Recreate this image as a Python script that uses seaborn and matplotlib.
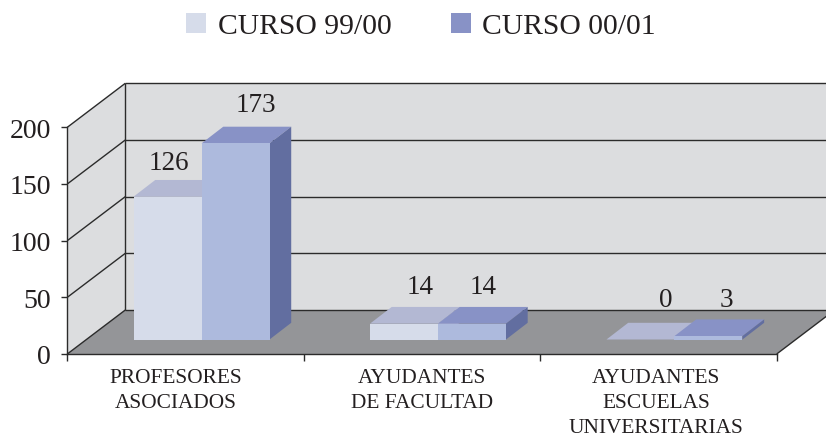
import matplotlib
matplotlib.use("Agg")
import matplotlib.pyplot as plt
from matplotlib.patches import Patch, Polygon
import pandas as pd
import seaborn as sns

categories = ["PROFESORES\nASOCIADOS", "AYUDANTES\nDE FACULTAD", "AYUDANTES\nESCUELAS\nUNIVERSITARIAS"]
series_names = ["CURSO 99/00", "CURSO 00/01"]
curso_9900 = [126, 14, 0]
curso_0001 = [173, 14, 3]
y_ticks = [0, 50, 100, 150, 200]

front_colors = ["#D6DCEA", "#ADBADD"]
top_colors = ["#B3B8D3", "#8892C6"]
side_colors = ["#B3B8D3", "#626EA0"]
legend_colors = ["#D6DCEA", "#8892C6"]
WALL, FLOOR, LINE = "#DCDDDF", "#949598", "#2B2B2B"

W, H = 826, 439
L, R, Y0, Y200 = 67.3, 776.7, 355.0, 128.3

sns.set_theme(style="white")
plt.rcParams["font.family"] = ["Liberation Serif", "DejaVu Serif"]
plt.rcParams["text.color"] = "#231F20"

fig = plt.figure(figsize=(W / 100, H / 100), dpi=100, facecolor="white")
ax = fig.add_axes([L / W, (H - Y0) / H, (R - L) / W, (Y0 - Y200) / H])

df = pd.DataFrame({
    "cat": categories * 2,
    "curso": [series_names[0]] * 3 + [series_names[1]] * 3,
    "valor": curso_9900 + curso_0001,
})
sns.barplot(data=df, x="cat", y="valor", hue="curso", hue_order=series_names,
            order=categories, palette=front_colors, width=0.575, gap=0,
            saturation=1, legend=False, linewidth=0, ax=ax)

XMIN, XMAX = -0.5, 2.5
ax.set_xlim(XMIN, XMAX)
ax.set_ylim(0, 200)
ax.patch.set_alpha(0)
ux = (R - L) / (XMAX - XMIN)
uy = (Y0 - Y200) / 200


def shift(px, py):
    return px / ux, py / uy


WDX, WDY = shift(58, 44)
BDX, BDY = shift(16, 14.5)
DDX, DDY = shift(21.7, 16.7)

# walls and floor
ax.add_patch(Polygon([(XMIN + WDX, WDY), (XMAX + WDX, WDY), (XMAX + WDX, 200 + WDY), (XMIN + WDX, 200 + WDY)],
                     fc=WALL, ec="none", zorder=0.5, clip_on=False))
ax.add_patch(Polygon([(XMIN, 0), (XMIN + WDX, WDY), (XMIN + WDX, 200 + WDY), (XMIN, 200)],
                     fc=WALL, ec="none", zorder=0.5, clip_on=False))
ax.add_patch(Polygon([(XMIN, 0), (XMAX, 0), (XMAX + WDX, WDY), (XMIN + WDX, WDY)],
                     fc=FLOOR, ec="none", zorder=0.6, clip_on=False))
line_kw = dict(color=LINE, lw=1.0, zorder=1, clip_on=False, solid_capstyle="butt")
for v in y_ticks:
    ax.plot([XMIN, XMIN + WDX], [v, v + WDY], **line_kw)
    ax.plot([XMIN + WDX, XMAX + WDX], [v + WDY, v + WDY], **line_kw)
ax.plot([XMIN + WDX, XMIN + WDX], [WDY, 200 + WDY], **line_kw)
ax.plot([XMAX, XMAX + WDX], [0, WDY], **line_kw)

# 3D bars, fronts drawn by seaborn
for i, container in enumerate(ax.containers):
    z = 3 + i
    for p in container:
        p.set_x(p.get_x() + BDX)
        p.set_y(p.get_y() + BDY)
        p.set_zorder(z + 0.5)
        p.set_clip_on(False)
        x0, x1 = p.get_x(), p.get_x() + p.get_width()
        y0, y1 = p.get_y(), p.get_y() + p.get_height()
        ax.add_patch(Polygon([(x0, y1), (x1, y1), (x1 + DDX, y1 + DDY), (x0 + DDX, y1 + DDY)],
                             fc=top_colors[i], ec="none", zorder=z, clip_on=False))
        ax.add_patch(Polygon([(x1, y0), (x1 + DDX, y0 + DDY), (x1 + DDX, y1 + DDY), (x1, y1)],
                             fc=side_colors[i], ec="none", zorder=z, clip_on=False))

# value labels: offset from front-top centre of each bar, in pixels
label_dx = [[1.4, 16.5, 25], [20, 11, 18]]
label_dy = [[28, 31, 33], [32, 31, 30]]
for i, container in enumerate(ax.containers):
    for j, p in enumerate(container):
        ax.annotate(f"{int(p.get_height())}",
                    (p.get_x() + p.get_width() / 2, p.get_y() + p.get_height()),
                    xytext=(label_dx[i][j], label_dy[i][j]), textcoords="offset pixels",
                    ha="center", va="baseline", fontsize=19.5, zorder=8, annotation_clip=False)

# axes
for s in ("top", "right"):
    ax.spines[s].set_visible(False)
for s in ("left", "bottom"):
    ax.spines[s].set_color(LINE)
    ax.spines[s].set_linewidth(1.0)
    ax.spines[s].set_zorder(7)
ax.set_xlabel("")
ax.set_ylabel("")
ax.set_yticks(y_ticks)
ax.tick_params(axis="y", which="major", left=True, length=4, width=1, color=LINE,
               labelsize=20, pad=8, labelcolor="#231F20")
ax.set_xticks([-0.5, 0.5, 1.5, 2.5])
ax.set_xticklabels([])
ax.tick_params(axis="x", which="major", bottom=True, length=5, width=1, color=LINE)
label_pos = [-0.04, 1.0, 1.99]
ax.set_xticks(label_pos, categories, minor=True)
ax.tick_params(axis="x", which="minor", bottom=False, length=0, pad=10, labelsize=15.4,
               labelcolor="#231F20")
for t in ax.get_xticklabels(minor=True):
    t.set_linespacing(1.42)
    t.set_ha("center")
    t.set_va("top")

handles = [Patch(fc=c, ec="none", label=n) for c, n in zip(legend_colors, series_names)]
fig.legend(handles=handles, loc="center", bbox_to_anchor=(421 / W, 1 - 27 / H),
           ncols=2, frameon=False, fontsize=21.3, handlelength=0.68, handleheight=0.68,
           handletextpad=0.38, columnspacing=2.0, borderpad=0, labelcolor="#231F20")

fig.savefig("out.png", dpi=100, facecolor="white")
